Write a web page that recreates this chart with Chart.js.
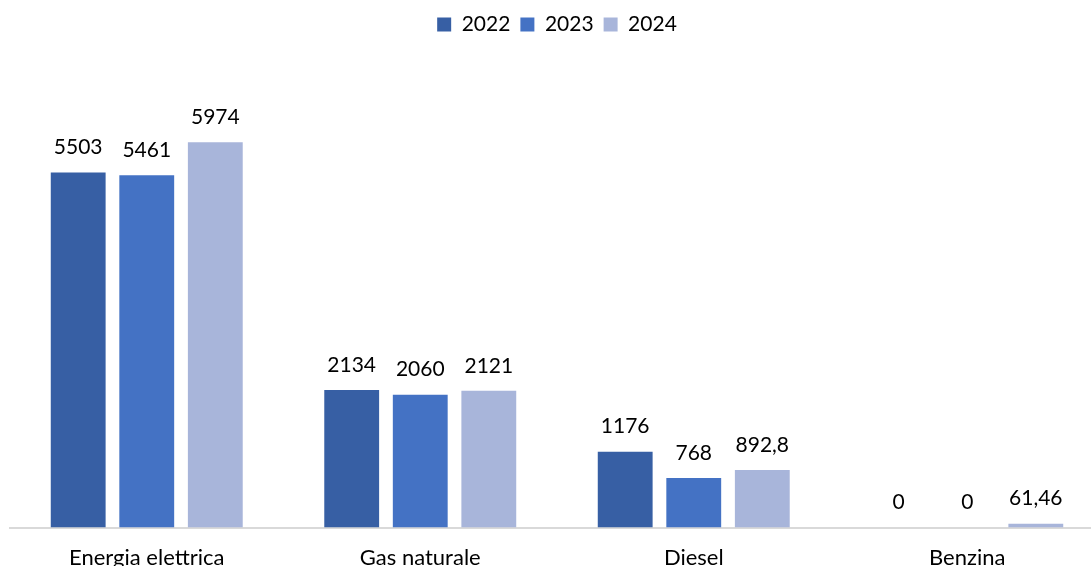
<!DOCTYPE html>
<html>
<head>
<meta charset="utf-8">
<script src="https://cdn.jsdelivr.net/npm/chart.js@4.4.1/dist/chart.umd.min.js"></script>
<style>
  html, body { margin: 0; padding: 0; background: #fff; overflow: hidden; }
  #wrap { position: relative; width: 1104px; height: 580px; }
</style>
</head>
<body>
<div id="wrap"><canvas id="chart"></canvas></div>
<script>
// categories and series
const categories = ['Energia elettrica', 'Gas naturale', 'Diesel', 'Benzina'];
const values2022 = [5503, 2134, 1176, 0];
const values2023 = [5461, 2060, 768, 0];
const values2024 = [5974, 2121, 892.8, 61.46];

const FONT = 'Lato, "Open Sans", sans-serif';

// value labels above each bar, comma as decimal separator
const barLabels = {
    id: 'barLabels',
    afterDatasetsDraw(chart) {
        const ctx = chart.ctx;
        ctx.save();
        ctx.font = '21px ' + FONT;
        ctx.fillStyle = '#000';
        ctx.textAlign = 'center';
        ctx.textBaseline = 'middle';
        chart.data.datasets.forEach((ds, i) => {
            chart.getDatasetMeta(i).data.forEach((bar, j) => {
                const txt = String(ds.data[j]).replace('.', ',');
                ctx.fillText(txt, bar.x, bar.y - 25);
            });
        });
        ctx.restore();
    }
};

// extra room between legend and plot
const legendGap = {
    id: 'legendGap',
    beforeInit(chart) {
        const fit = chart.legend.fit;
        chart.legend.fit = function() {
            fit.bind(chart.legend)();
            this.height += 31;
        };
    }
};

new Chart(document.getElementById('chart'), {
    type: 'bar',
    data: {
        labels: categories,
        datasets: [
            { label: '2022', data: values2022, backgroundColor: '#375FA4' },
            { label: '2023', data: values2023, backgroundColor: '#4472C4' },
            { label: '2024', data: values2024, backgroundColor: '#A8B5DA' }
        ]
    },
    options: {
        responsive: true,
        maintainAspectRatio: false,
        animation: false,
        layout: { padding: { left: 10, right: 0, top: 4 } },
        datasets: {
            bar: { categoryPercentage: 0.752, barPercentage: 0.8 }
        },
        plugins: {
            legend: {
                position: 'top',
                labels: {
                    font: { family: FONT, size: 21 },
                    color: '#000',
                    boxWidth: 14,
                    boxHeight: 14,
                    padding: 10
                }
            },
            tooltip: { enabled: false }
        },
        scales: {
            x: {
                grid: { display: false },
                border: { display: true, color: '#d9d9d9', width: 2 },
                ticks: {
                    font: { family: FONT, size: 22 },
                    color: '#000',
                    padding: 9,
                    maxRotation: 0
                }
            },
            y: {
                display: false,
                min: 0,
                max: 7000
            }
        }
    },
    plugins: [barLabels, legendGap]
});
</script>
</body>
</html>
